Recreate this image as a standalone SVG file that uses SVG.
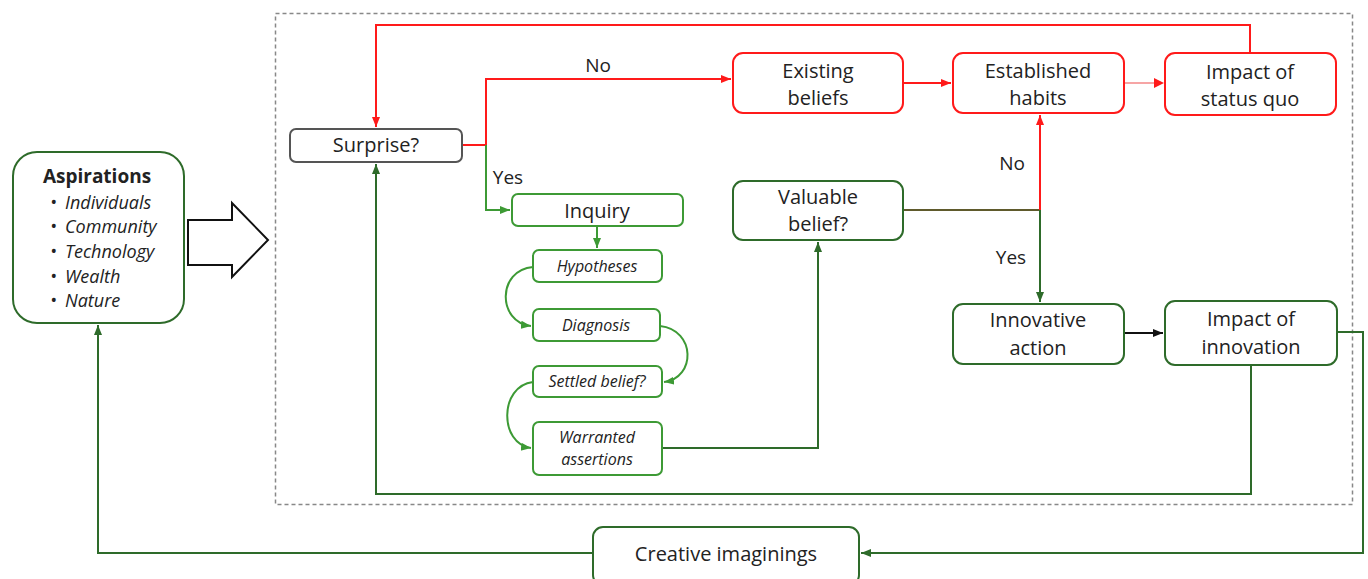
<svg xmlns="http://www.w3.org/2000/svg" width="1368" height="579" viewBox="0 0 1368 579">
<defs>
<style>
text{font-family:"Open Sans","Liberation Sans",sans-serif;fill:#222;}
.lbl{font-size:20px;text-anchor:middle;}
.it{font-size:16px;font-style:italic;text-anchor:middle;}
.asp{font-size:18px;font-style:italic;}
.yn{font-size:19px;text-anchor:middle;}
.box{fill:#fff;stroke-width:2;}
.red{stroke:#ff1a1a;}
.dg{stroke:#2e6b2a;}
.lg{stroke:#3d9a35;}
.gray{stroke:#555;}
.c{fill:none;stroke-width:2;}
</style>
<marker id="aR" markerWidth="11" markerHeight="10" refX="10" refY="5" orient="auto" markerUnits="userSpaceOnUse"><path d="M0,1 L10,5 L0,9 Z" fill="#ff1a1a"/></marker>
<marker id="aDG" markerWidth="11" markerHeight="10" refX="10" refY="5" orient="auto" markerUnits="userSpaceOnUse"><path d="M0,1 L10,5 L0,9 Z" fill="#2e6b2a"/></marker>
<marker id="aLG" markerWidth="11" markerHeight="10" refX="10" refY="5" orient="auto" markerUnits="userSpaceOnUse"><path d="M0,1 L10,5 L0,9 Z" fill="#3d9a35"/></marker>
<marker id="aK" markerWidth="11" markerHeight="10" refX="10" refY="5" orient="auto" markerUnits="userSpaceOnUse"><path d="M0,1 L10,5 L0,9 Z" fill="#111"/></marker>
</defs>
<rect width="1368" height="579" fill="#fff"/>
<rect id="frame" x="275.5" y="13.5" width="1077" height="491" fill="none" stroke="#888" stroke-width="1.5" stroke-dasharray="4 3"/>

<g id="connectors">
<path class="c red" d="M1250,53 V25 H376 V127" marker-end="url(#aR)"/>
<path class="c red" d="M462,145 H486 V79 H731" marker-end="url(#aR)"/>
<path class="c lg" d="M486,145 V210 H510" marker-end="url(#aLG)"/>
<path class="c lg" d="M597,226 V248" marker-end="url(#aLG)"/>
<path class="c lg" d="M533,267 C497,270 497,322 531,326" marker-end="url(#aLG)"/>
<path class="c lg" d="M660,326 C696,330 696,378 664,382" marker-end="url(#aLG)"/>
<path class="c lg" d="M533,382 C499,386 499,444 531,448" marker-end="url(#aLG)"/>
<path class="c dg" d="M662,448 H818 V242" marker-end="url(#aDG)"/>
<path class="c red" d="M903,83 H951" marker-end="url(#aR)"/>
<path class="c" stroke="#f6a5a5" d="M1124,83 H1155"/>
<path d="M1154,78 L1164,83 L1154,88 Z" fill="#ff1a1a"/>
<path class="c" stroke="#5f5a2c" d="M903,210 H1040"/>
<path class="c red" d="M1040,210 V115" marker-end="url(#aR)"/>
<path class="c dg" d="M1040,210 V302" marker-end="url(#aDG)"/>
<path class="c" stroke="#111" d="M1124,333 H1163" marker-end="url(#aK)"/>
<path class="c dg" d="M1251,365 V494 H376 V164" marker-end="url(#aDG)"/>
<path class="c dg" d="M1337,332 H1363 V553 H861" marker-end="url(#aDG)"/>
<path class="c dg" d="M593,553 H98 V325" marker-end="url(#aDG)"/>
<text class="yn" x="598" y="72">No</text>
<text class="yn" x="508" y="184">Yes</text>
<text class="yn" x="1012" y="170">No</text>
<text class="yn" x="1011" y="264">Yes</text>
</g>

<g id="aspirations">
<rect class="box dg" x="13" y="152" width="171" height="171" rx="24"/>
<text x="97" y="183" font-size="19" font-weight="bold" text-anchor="middle">Aspirations</text>
<text class="asp" x="50" y="209">•</text><text class="asp" x="65" y="209">Individuals</text>
<text class="asp" x="50" y="233">•</text><text class="asp" x="65" y="233">Community</text>
<text class="asp" x="50" y="258">•</text><text class="asp" x="65" y="258">Technology</text>
<text class="asp" x="50" y="283">•</text><text class="asp" x="65" y="283">Wealth</text>
<text class="asp" x="50" y="307">•</text><text class="asp" x="65" y="307">Nature</text>
</g>

<g id="bigArrow">
<polygon points="188,220 232,220 232,203 268,240 232,277 232,265 188,265" fill="#fff" stroke="#111" stroke-width="2"/>
</g>

<g id="surprise">
<rect class="box gray" x="290" y="129" width="172" height="33" rx="6"/>
<text class="lbl" x="376" y="152">Surprise?</text>
</g>
<g id="inquiry">
<rect class="box lg" x="512" y="194" width="171" height="32" rx="6"/>
<text class="lbl" x="597" y="218">Inquiry</text>
</g>
<g id="hypotheses">
<rect class="box lg" x="533" y="250" width="129" height="32" rx="6"/>
<text class="it" x="597" y="272">Hypotheses</text>
</g>
<g id="diagnosis">
<rect class="box lg" x="533" y="309" width="127" height="32" rx="6"/>
<text class="it" x="596" y="331">Diagnosis</text>
</g>
<g id="settled">
<rect class="box lg" x="533" y="366" width="129" height="31" rx="6"/>
<text class="it" x="597" y="387">Settled belief?</text>
</g>
<g id="warranted">
<rect class="box lg" x="533" y="422" width="129" height="53" rx="6"/>
<text class="it" x="597" y="443">Warranted</text>
<text class="it" x="597" y="465">assertions</text>
</g>
<g id="existing">
<rect class="box red" x="733" y="53" width="170" height="60" rx="10"/>
<text class="lbl" x="818" y="78">Existing</text>
<text class="lbl" x="818" y="105">beliefs</text>
</g>
<g id="established">
<rect class="box red" x="953" y="53" width="171" height="60" rx="10"/>
<text class="lbl" x="1038" y="78">Established</text>
<text class="lbl" x="1038" y="105">habits</text>
</g>
<g id="statusquo">
<rect class="box red" x="1165" y="53" width="171" height="62" rx="10"/>
<text class="lbl" x="1250" y="79">Impact of</text>
<text class="lbl" x="1250" y="106">status quo</text>
</g>
<g id="valuable">
<rect class="box dg" x="733" y="181" width="170" height="59" rx="10"/>
<text class="lbl" x="818" y="204">Valuable</text>
<text class="lbl" x="818" y="231">belief?</text>
</g>
<g id="innovative">
<rect class="box dg" x="953" y="304" width="171" height="60" rx="10"/>
<text class="lbl" x="1038" y="327">Innovative</text>
<text class="lbl" x="1038" y="355">action</text>
</g>
<g id="impactInnovation">
<rect class="box dg" x="1165" y="301" width="172" height="64" rx="10"/>
<text class="lbl" x="1251" y="326">Impact of</text>
<text class="lbl" x="1251" y="354">innovation</text>
</g>
<g id="creative">
<rect class="box dg" x="593" y="527" width="266" height="58" rx="10"/>
<text class="lbl" x="726" y="561">Creative imaginings</text>
</g>
</svg>
